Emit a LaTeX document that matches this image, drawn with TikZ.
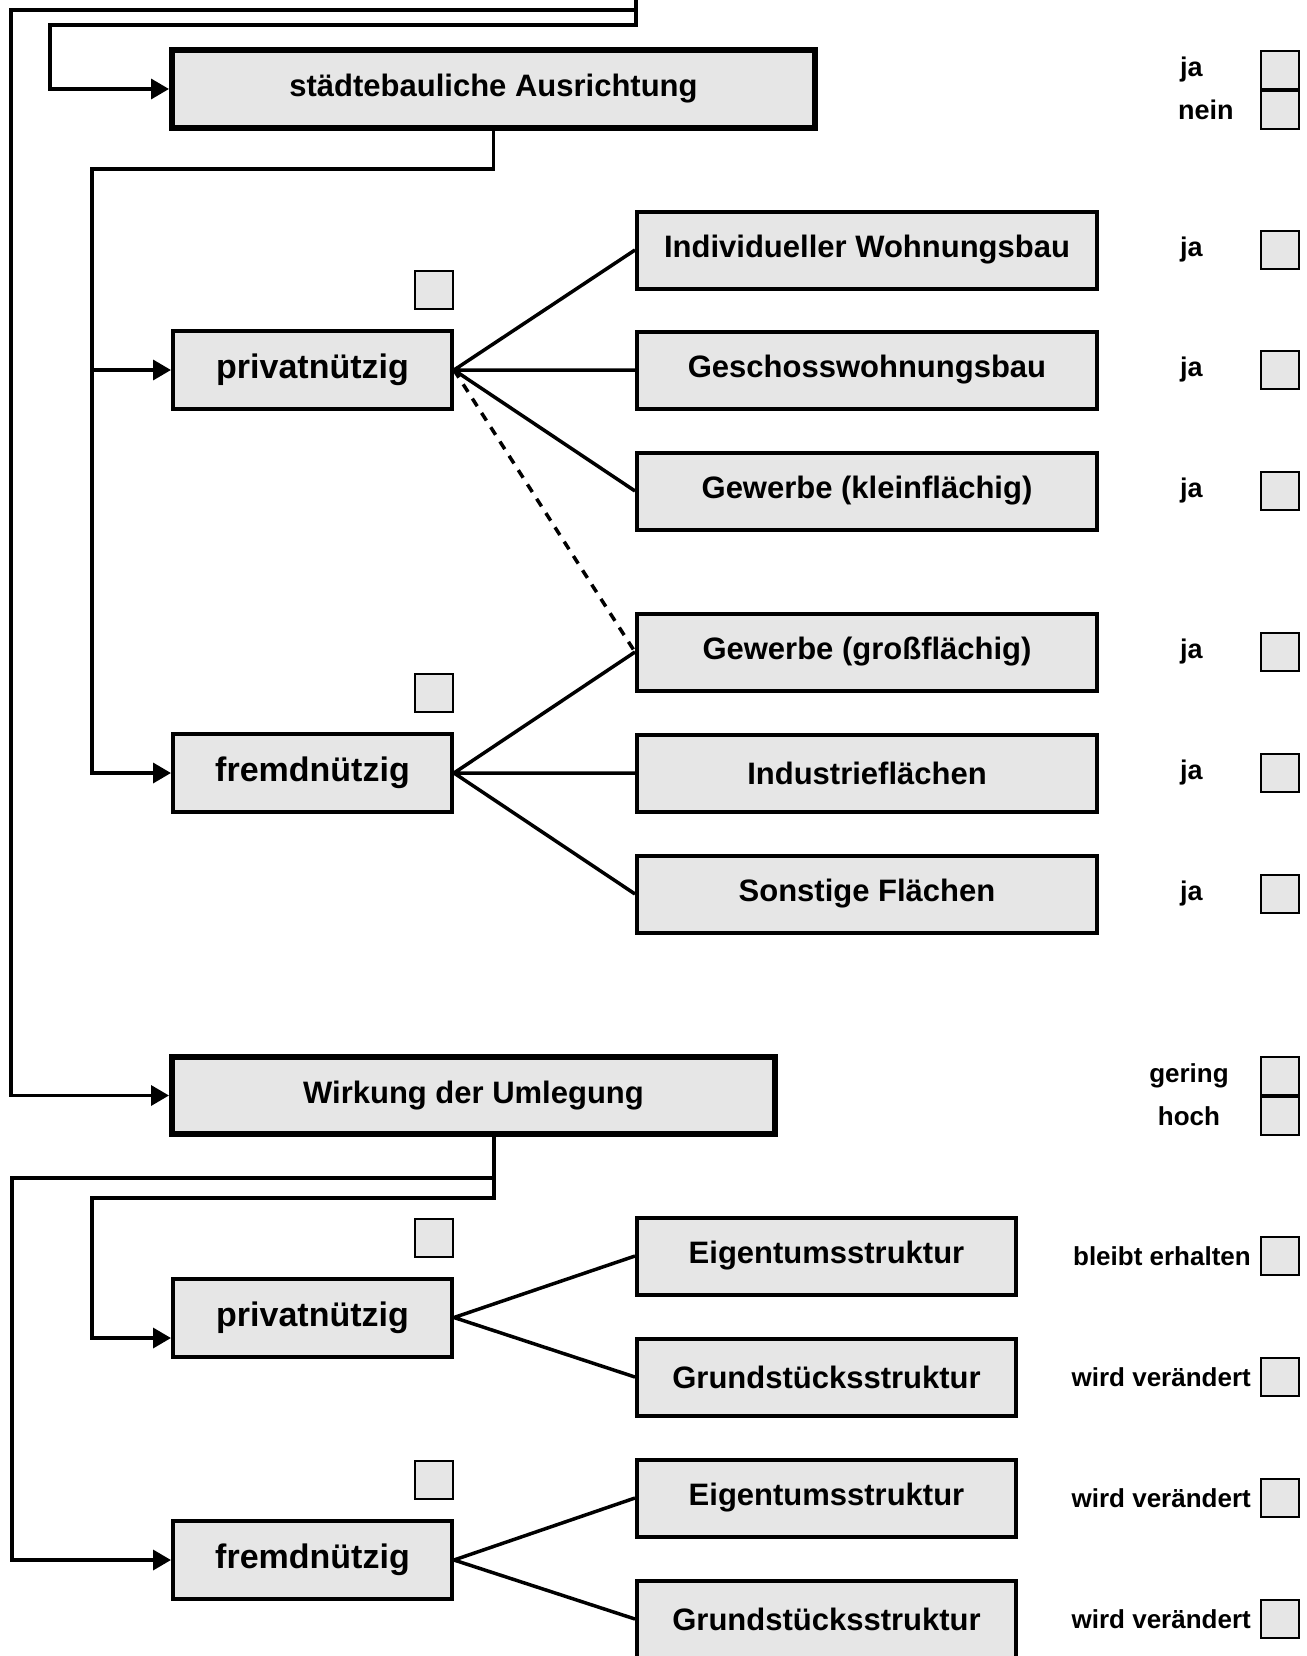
\documentclass[tikz,border=0pt]{standalone}
\usepackage{fontspec}
\setmainfont{Liberation Sans}
\usetikzlibrary{arrows.meta,positioning}
\definecolor{boxgray}{RGB}{230,230,230}
\tikzset{
  box/.style={draw, fill=boxgray, line width=4pt, minimum height=77pt, inner sep=0pt, font=\fontsize{31}{36}\selectfont\bfseries},
  headbox/.style={box, line width=6pt, minimum height=78pt},
  usebox/.style={box, minimum width=279pt, minimum height=78pt, font=\fontsize{34}{40}\selectfont\bfseries},
  kindbox/.style={box, minimum width=460pt},
  partbox/.style={box, minimum width=379pt},
  chkbox/.style={draw, fill=boxgray, line width=2pt, minimum size=38pt, inner sep=0pt},
  lbl/.style={inner sep=0pt, font=\fontsize{27}{32}\selectfont\bfseries},
  slbl/.style={lbl, font=\fontsize{26}{30}\selectfont\bfseries},
  con/.style={line width=3.5pt},
  arr/.style={con, -{Triangle[length=18pt,width=20pt]}}
}
\begin{document}
\begin{tikzpicture}[x=1pt,y=-1pt]
\useasboundingbox (0,0) rectangle (1306,1656);
% staedtebauliche Ausrichtung
\node[headbox, minimum width=643pt] (st) at (493.5,89) {städtebauliche Ausrichtung};
\node[usebox] (p1) at (312.5,370) {privatnützig};
\node[usebox] (f1) at (312.5,773) {fremdnützig};
\node[chkbox, anchor=south east] (cp1) at ([yshift=19pt]p1.north east) {};
\node[chkbox, anchor=south east] (cf1) at ([yshift=19pt]f1.north east) {};
\node[kindbox] (iw) at (867,250) {Individueller Wohnungsbau};
\node[kindbox] (gw) at (867,370) {Geschosswohnungsbau};
\node[kindbox] (gk) at (867,491) {Gewerbe (kleinflächig)};
\node[kindbox] (gg) at (867,652) {Gewerbe (großflächig)};
\node[kindbox] (ind) at (867,773) {Industrieflächen};
\node[kindbox] (sf) at (867,894) {Sonstige Flächen};
\node[chkbox] (sja) at (1280,70) {};
\node[chkbox] (snein) at (1280,110) {};
\node[lbl, anchor=west] (lja) at (1180,70) {ja};
\node[lbl, anchor=west] (lnein) at (1178,110) {nein};
\foreach \n in {iw,gw,gk,gg,ind,sf}{
  \node[chkbox] (c-\n) at (1280,0 |- \n) {};
  \node[lbl, anchor=west] (j-\n) at (1180,0 |- \n) {ja};
}
\draw[arr] (636,0) |- (50,25) |- (st.west);
\draw[arr] (st.south) |- (92,169) |- (f1.west);
\draw[arr] (92,0 |- p1.west) -- (p1.west);
\draw[con] (p1.east) -- (iw.west) (p1.east) -- (gw.west) (p1.east) -- (gk.west);
\draw[con, dash pattern=on 9pt off 8pt] (p1.east) -- (gg.west);
\draw[con] (f1.east) -- (gg.west) (f1.east) -- (ind.west) (f1.east) -- (sf.west);
% Wirkung der Umlegung
\node[headbox, minimum width=603pt, minimum height=77pt] (wi) at (473.5,1095.5) {Wirkung der Umlegung};
\node[slbl] (lger) at (1189,1076) {gering};
\node[slbl] (lhoch) at (1189,1116) {hoch};
\node[chkbox] (wger) at (1280,1076) {};
\node[chkbox] (whoch) at (1280,1116) {};
\node[usebox] (p2) at (312.5,1317.5) {privatnützig};
\node[usebox] (f2) at (312.5,1560) {fremdnützig};
\node[chkbox, anchor=south east] (cp2) at ([yshift=19pt]p2.north east) {};
\node[chkbox, anchor=south east] (cf2) at ([yshift=19pt]f2.north east) {};
\node[partbox] (e1) at (826.5,1256) {Eigentumsstruktur};
\node[partbox] (g1) at (826.5,1377) {Grundstücksstruktur};
\node[partbox] (e2) at (826.5,1498) {Eigentumsstruktur};
\node[partbox] (g2) at (826.5,1619) {Grundstücksstruktur};
\foreach \n/\t in {e1/bleibt erhalten,g1/wird verändert,e2/wird verändert,g2/wird verändert}{
  \node[chkbox] (c-\n) at (1280,0 |- \n) {};
  \node[slbl, anchor=east] (l-\n) at (1251,0 |- \n) {\t};
}
\draw[arr] (636,10) -- (11,10) |- (wi.west);
\draw[arr] (494,0 |- wi.south) |- (92,1198) |- (p2.west |- 0,1338);
\draw[arr] (494,1178) -- (12,1178) |- (f2.west);
\draw[con] (p2.east) -- (e1.west) (p2.east) -- (g1.west);
\draw[con] (f2.east) -- (e2.west) (f2.east) -- (g2.west);
\end{tikzpicture}
\end{document}
